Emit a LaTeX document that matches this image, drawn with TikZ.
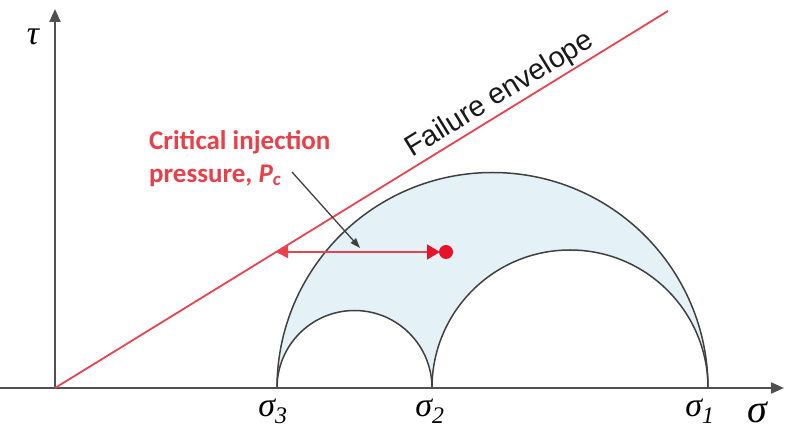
\documentclass[tikz,border=0pt]{standalone}
\usepackage{fontspec}
\setmainfont{Liberation Serif}
\newfontfamily\redlabfont{Carlito}
\newfontfamily\envfont{Liberation Sans}
\usetikzlibrary{arrows.meta}
\definecolor{envred}{HTML}{E8444F}
\definecolor{txtred}{HTML}{EA3F48}
\definecolor{dotred}{HTML}{E8132B}
\definecolor{fillblue}{HTML}{E4F1F7}
\definecolor{axisgray}{HTML}{505050}
\definecolor{circgray}{HTML}{404040}
\begin{document}
\begin{tikzpicture}[x=1pt,y=1pt,
  axisline/.style={draw=axisgray, line width=2.2pt, -{Triangle[length=13pt,width=11pt]}},
  mohr/.style={draw=circgray, line width=1.5pt},
  envline/.style={draw=envred, line width=1.8pt},
  pcarrow/.style={draw=envred, line width=1.6pt, {Triangle[length=13pt,width=15pt,color=dotred]}-{Triangle[length=12pt,width=12pt]}},
  pointer/.style={draw=circgray, line width=1.3pt, -{Triangle[length=10pt,width=7pt]}},
  greek/.style={font=\fontsize{34}{38}\selectfont\itshape, inner sep=0pt},
  redtext/.style={font=\fontsize{27}{33}\selectfont\redlabfont\bfseries, text=txtred, align=left, inner sep=0pt},
  envtext/.style={font=\fontsize{29}{32}\selectfont\envfont, text=black!90, inner sep=2pt}
]
\useasboundingbox (0,0) rectangle (785,439);
% key points
\coordinate (O) at (55,51);
\coordinate (ytop) at (55,430);
\coordinate (xleft) at (0,51);
\coordinate (xright) at (784,51);
\coordinate (s3) at (277,51);
\coordinate (s2) at (432,51);
\coordinate (s1) at (708,51);
\coordinate (envend) at (668,428);
\coordinate (pctip) at (276,187);
\coordinate (pcend) at (440,187);
\coordinate (pcdot) at (446,187);
% shaded region
\fill[fillblue, even odd rule]
  (s3) arc[start angle=180, end angle=0, radius=215.5] -- cycle
  (s3) arc[start angle=180, end angle=0, radius=77.5] -- cycle
  (s2) arc[start angle=180, end angle=0, radius=138] -- cycle;
% Mohr circles
\draw[mohr] (s3) arc[start angle=180, end angle=0, radius=215.5];
\draw[mohr] (s3) arc[start angle=180, end angle=0, radius=77.5];
\draw[mohr] (s2) arc[start angle=180, end angle=0, radius=138];
% axes
\draw[axisline] (xleft) -- (xright);
\draw[axisline] (O) -- (ytop);
% failure envelope
\draw[envline] (O) -- (envend) node[envtext, pos=0.74, sloped, above] (envlabel) {Failure envelope};
% critical injection pressure
\fill[dotred] (pcdot) circle[radius=7];
\draw[pcarrow] (pcend) -- (pctip);
\node[redtext, anchor=north west] (pclabel) at (149,309) {Critical injection\\pressure, \textit{P}\textsubscript{\textit{c}}};
\coordinate (ptrstart) at (292,267);
\coordinate (ptrend) at (360,191);
\draw[pointer] (ptrstart) -- (ptrend);
% labels
\node[greek] (l3) at (273,28) {σ\textsubscript{3}};
\node[greek] (l2) at (430,28) {σ\textsubscript{2}};
\node[greek] (l1) at (700,28) {σ\textsubscript{1}};
\node[greek, font=\fontsize{40}{42}\selectfont\itshape] (lsig) at (757,27) {σ};
\node[greek] (ltau) at (33,402) {τ};
\end{tikzpicture}
\end{document}
